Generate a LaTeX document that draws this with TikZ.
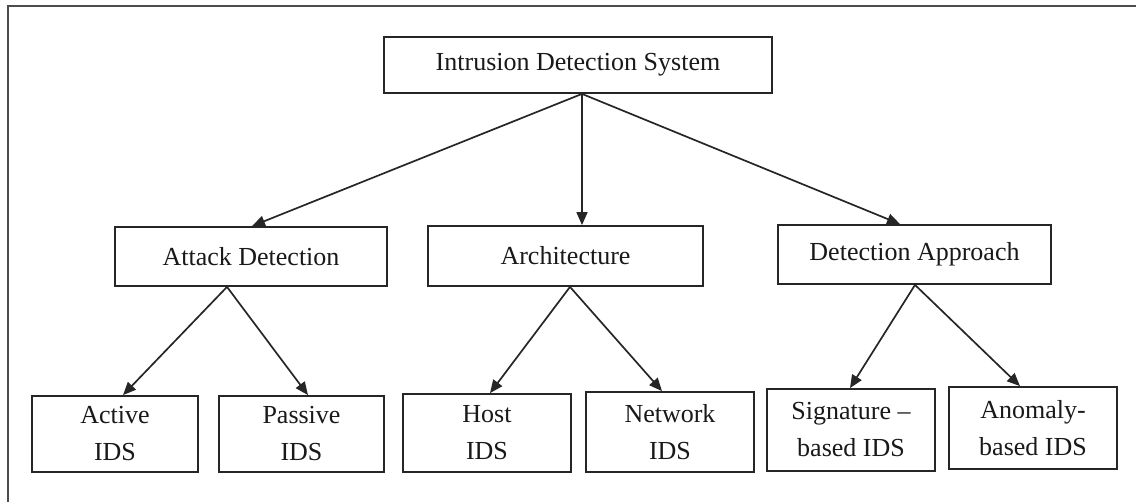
\documentclass[tikz,border=0pt]{standalone}
\usepackage{fontspec}
\setmainfont{Liberation Serif}
\usetikzlibrary{arrows.meta}
\begin{document}
\begin{tikzpicture}[x=1pt, y=-1pt,
  box/.style={draw=black!85, line width=1.8pt, fill=white, inner sep=0pt,
    align=center, font=\fontsize{26}{37}\selectfont, text=black!90},
  link/.style={draw=black!85, line width=1.7pt,
    -{Triangle[length=13pt,width=11pt]}},
  frameline/.style={draw=black!70, line width=2.4pt}]
\useasboundingbox (0,0) rectangle (1136,502);
% frame
\coordinate (fb) at (8,502);
\coordinate (ftl) at (8,6);
\coordinate (fr) at (1136,6);
\draw[frameline] (fb) -- (ftl) -- (fr);

% root
\node[box, minimum width=388pt, minimum height=56pt] (ids) at (578,65) {Intrusion Detection System};

% second level
\node[box, minimum width=272pt, minimum height=59pt] (attack) at (251,256.5) {Attack Detection};
\node[box, minimum width=275pt, minimum height=60pt] (arch) at (565.5,256) {Architecture};
\node[box, minimum width=273pt, minimum height=59pt] (approach) at (914.5,254.5) {Detection Approach};

% leaves
\node[box, minimum width=166pt, minimum height=76pt] (active) at (115,434) {Active\\IDS};
\node[box, minimum width=165pt, minimum height=76pt] (passive) at (301.5,434) {Passive\\IDS};
\node[box, minimum width=168pt, minimum height=78pt] (host) at (487,433) {Host\\IDS};
\node[box, minimum width=168pt, minimum height=80pt] (network) at (670,432) {Network\\IDS};
\node[box, minimum width=168pt, minimum height=82pt] (signature) at (851,430) {Signature --\\based IDS};
\node[box, minimum width=168pt, minimum height=82pt] (anomaly) at (1033,428) {Anomaly-\\based IDS};

% connectors
\draw[link] ([xshift=4pt]ids.south) -- ([xshift=1pt]attack.north);
\draw[link] ([xshift=4pt]ids.south) -- ([xshift=16.5pt]arch.north);
\draw[link] ([xshift=4pt]ids.south) -- ([xshift=-14.5pt]approach.north);

\draw[link] ([xshift=-24pt]attack.south) -- ([xshift=8pt]active.north);
\draw[link] ([xshift=-24pt]attack.south) -- ([xshift=6.5pt]passive.north);

\draw[link] ([xshift=4.5pt]arch.south) -- ([xshift=3pt]host.north);
\draw[link] ([xshift=4.5pt]arch.south) -- ([xshift=-8pt]network.north);

\draw[link] ([xshift=0.5pt]approach.south) -- ([xshift=-1pt]signature.north);
\draw[link] ([xshift=0.5pt]approach.south) -- ([xshift=-13pt]anomaly.north);
\end{tikzpicture}
\end{document}
